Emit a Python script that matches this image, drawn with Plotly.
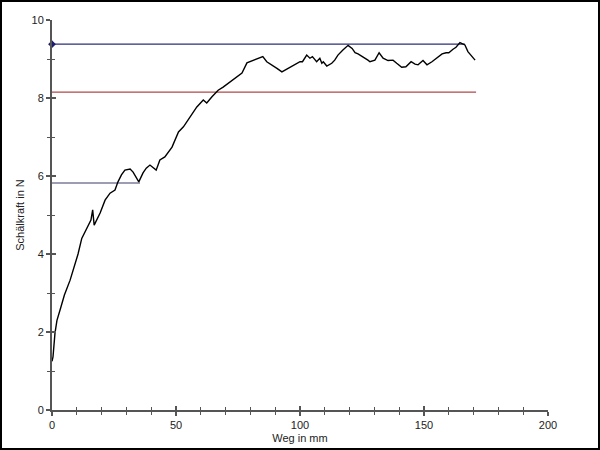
import plotly.graph_objects as go

# Curve data (Weg in mm, Schälkraft in N)
weg = [0, 0.4, 1.2, 2, 3.6, 5, 7.3, 10.5, 12, 13.7,
       15.7, 16.4, 17, 19.4, 21.4, 23.4, 25.4, 26.6, 28, 29.4,
       31.5, 32.7, 35, 36.7, 38, 39.5, 42, 43.5, 45.5, 48.4,
       51, 53, 55.6, 58.4, 61, 62.4, 64.5, 67, 69, 71.8,
       73.8, 76.6, 78.6, 80.6, 83, 85, 86.6, 88.7, 90.7, 92.7,
       94.6, 96.7, 98.7, 100, 101, 102.7, 104, 105, 106.7, 108,
       108.8, 109.4, 110.8, 112.8, 114, 115.3, 117.3, 119.4, 121, 122.2,
       123.4, 125.4, 127.4, 128.2, 130.2, 131.9, 133.5, 135.5, 137.5, 139,
       141, 142.7, 144.8, 146.4, 147.6, 149.6, 151.2, 153.2, 155.2, 157.3,
       158.9, 160, 161.7, 162.9, 164.5, 166.5, 167.7, 169.4, 170.6]
kraft = [1.25, 1.36, 1.97, 2.3, 2.64, 2.95, 3.33, 4.0, 4.4, 4.6,
         4.87, 5.13, 4.74, 5.05, 5.38, 5.56, 5.64, 5.85, 6.03, 6.15,
         6.18, 6.1, 5.85, 6.08, 6.2, 6.28, 6.15, 6.41, 6.49, 6.74,
         7.13, 7.26, 7.51, 7.77, 7.95, 7.87, 8.03, 8.2, 8.28, 8.41,
         8.51, 8.64, 8.9, 8.95, 9.02, 9.06, 8.93, 8.85, 8.76, 8.67,
         8.74, 8.82, 8.89, 8.93, 8.93, 9.1, 9.02, 9.06, 8.93, 9.02,
         8.89, 8.93, 8.82, 8.89, 8.97, 9.1, 9.23, 9.35, 9.27, 9.16,
         9.13, 9.06, 8.97, 8.93, 8.97, 9.16, 9.02, 8.96, 8.97, 8.89,
         8.79, 8.8, 8.93, 8.87, 8.85, 8.96, 8.85, 8.93, 9.04, 9.13,
         9.16, 9.16, 9.25, 9.3, 9.42, 9.36, 9.19, 9.06, 8.97]

# Reference lines
max_x = [0, 166.5]
max_y = [9.38, 9.38]
mean_x = [0, 171]
mean_y = [8.15, 8.15]
low_x = [0, 35.5]
low_y = [5.82, 5.82]

x_tickvals = [0, 50, 100, 150, 200]
x_ticktext = ["0", "50", "100", "150", "200"]
y_tickvals = [0, 2, 4, 6, 8, 10]
y_ticktext = ["0", "2", "4", "6", "8", "10"]

fig = go.Figure()
fig.add_trace(go.Scatter(x=max_x, y=max_y, mode="lines",
                         line=dict(color="#2e2e7a", width=1.2), hoverinfo="skip"))
fig.add_trace(go.Scatter(x=mean_x, y=mean_y, mode="lines",
                         line=dict(color="#b04848", width=1.2), hoverinfo="skip"))
fig.add_trace(go.Scatter(x=low_x, y=low_y, mode="lines",
                         line=dict(color="#3a3a66", width=1.2), hoverinfo="skip"))
fig.add_trace(go.Scatter(x=[max_x[0]], y=[max_y[0]], mode="markers",
                         marker=dict(color="#1e1e6e", size=6, symbol="diamond"),
                         cliponaxis=False, hoverinfo="skip"))
fig.add_trace(go.Scatter(x=weg, y=kraft, mode="lines",
                         line=dict(color="black", width=1.4)))
# dummy trace for inner tick axes
fig.add_trace(go.Scatter(x=[None], y=[None], xaxis="x2", yaxis="y2",
                         showlegend=False, hoverinfo="skip"))

font_family = "Liberation Sans, Arial, sans-serif"
axis_col = "#555555"

fig.update_layout(
    width=600, height=450,
    margin=dict(l=52, r=52, t=20, b=40, autoexpand=False),
    paper_bgcolor="white", plot_bgcolor="white",
    showlegend=False,
    font=dict(family=font_family, size=11, color="#222222"),
    xaxis=dict(range=[0, 200], tickvals=x_tickvals, ticktext=x_ticktext,
               automargin=False,
               showgrid=False, zeroline=False, showline=True,
               linecolor=axis_col, linewidth=2,
               ticks="outside", ticklen=4, tickwidth=1.5, tickcolor=axis_col,
               minor=dict(dtick=10, ticks="outside", ticklen=3, tickwidth=1.2,
                          tickcolor=axis_col),
               title=dict(text="Weg in mm", standoff=4,
                          font=dict(size=11, color="#222222")),
               tickfont=dict(size=11, color="#222222"),
               fixedrange=True),
    yaxis=dict(range=[0, 10], tickvals=y_tickvals, ticktext=y_ticktext,
               automargin=False,
               showgrid=False, zeroline=False, showline=True,
               linecolor=axis_col, linewidth=2,
               ticks="outside", ticklen=4, tickwidth=1.5, tickcolor=axis_col,
               minor=dict(dtick=1, ticks="outside", ticklen=3, tickwidth=1.2,
                          tickcolor=axis_col),
               title=dict(text="Schälkraft in N", standoff=5,
                          font=dict(size=11, color="#222222")),
               tickfont=dict(size=11, color="#222222"),
               fixedrange=True),
    xaxis2=dict(range=[0, 200], overlaying="x", anchor="y", side="bottom",
                automargin=False,
                tickvals=x_tickvals, showticklabels=False,
                showgrid=False, zeroline=False, showline=False,
                ticks="inside", ticklen=4, tickwidth=1.5, tickcolor=axis_col,
                minor=dict(dtick=10, ticks="inside", ticklen=3, tickwidth=1.2,
                           tickcolor=axis_col),
                fixedrange=True),
    yaxis2=dict(range=[0, 10], overlaying="y", anchor="x", side="left",
                automargin=False,
                tickvals=y_tickvals, showticklabels=False,
                showgrid=False, zeroline=False, showline=False,
                ticks="inside", ticklen=4, tickwidth=1.5, tickcolor=axis_col,
                minor=dict(dtick=1, ticks="inside", ticklen=3, tickwidth=1.2,
                           tickcolor=axis_col),
                fixedrange=True),
    shapes=[dict(type="rect", xref="paper", yref="paper",
                 x0=-51/496, x1=1 + 51/496, y0=-39/390, y1=1 + 19/390,
                 line=dict(color="black", width=2), layer="above")],
)

fig.write_html("out.html",
               config={"displayModeBar": False},
               post_script="document.body.style.margin='0';document.body.style.padding='0';")
